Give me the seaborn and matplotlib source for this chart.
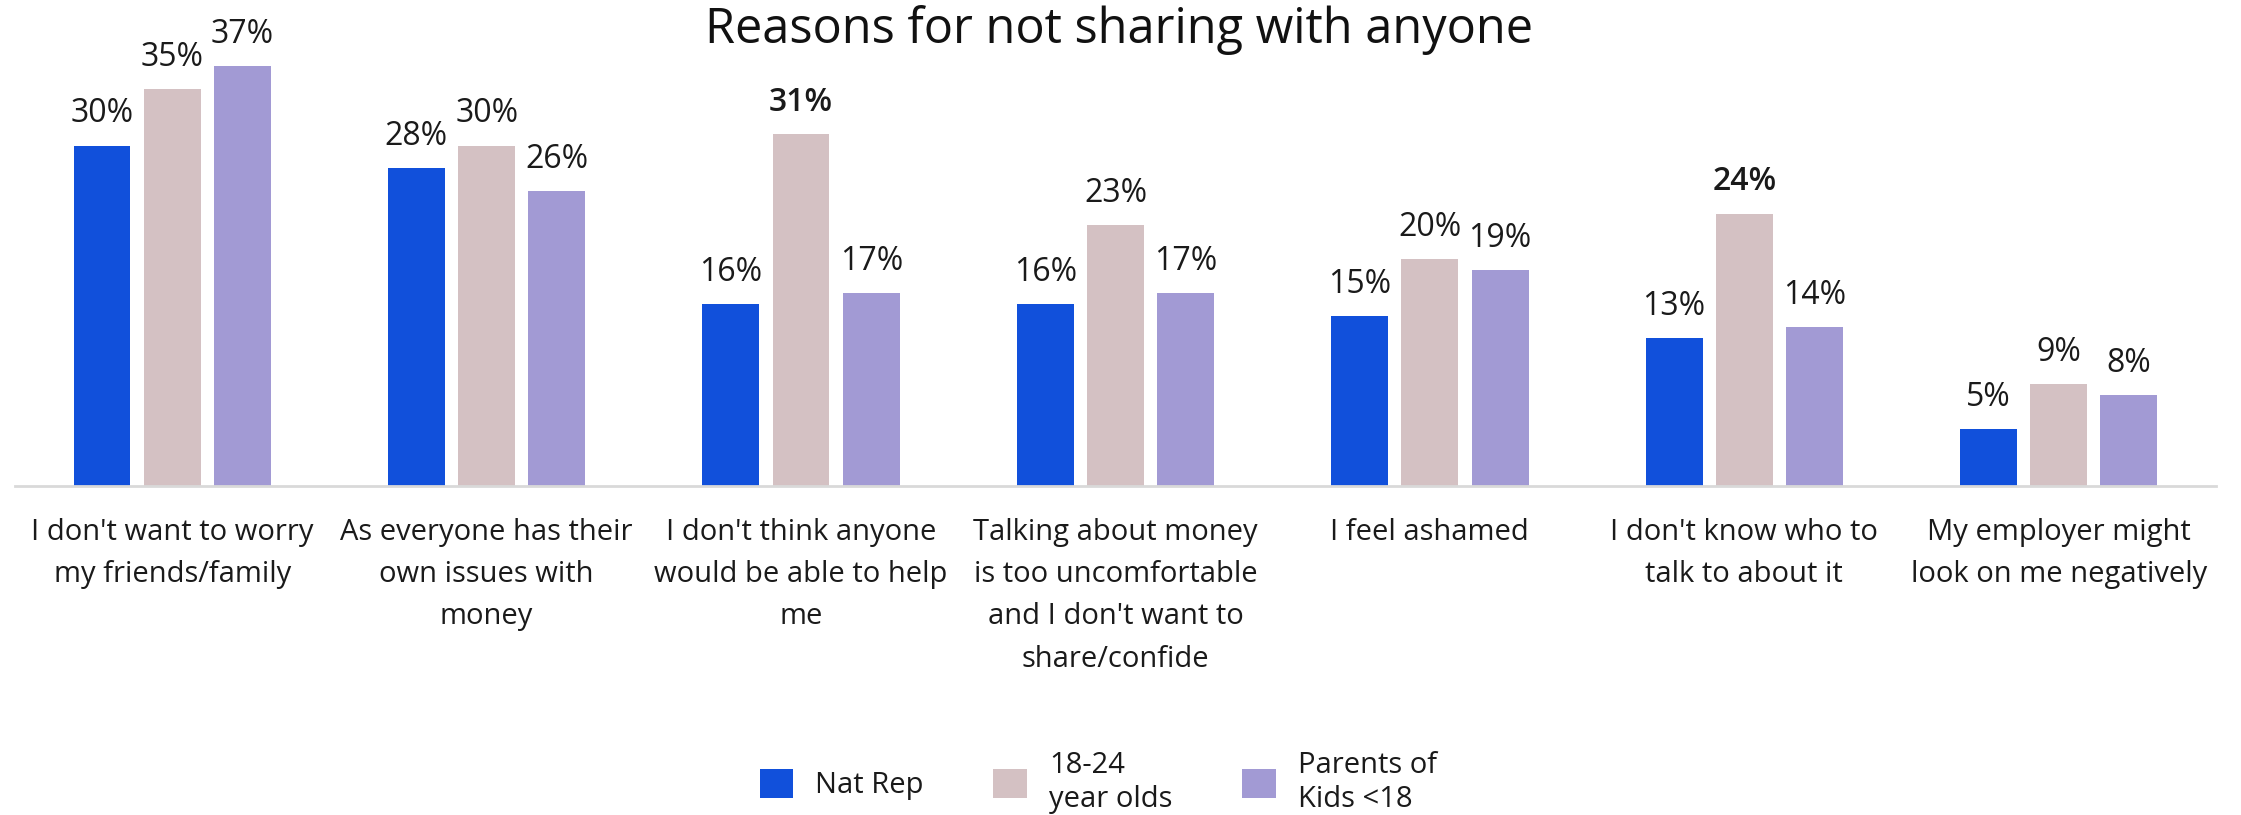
import matplotlib
matplotlib.use("Agg")
import matplotlib.pyplot as plt
import seaborn as sns
import pandas as pd
from matplotlib.patches import Patch

# Survey reasons (x categories)
categories = [
    "I don't want to worry\nmy friends/family",
    "As everyone has their\nown issues with\nmoney",
    "I don't think anyone\nwould be able to help\nme",
    "Talking about money\nis too uncomfortable\nand I don't want to\nshare/confide",
    "I feel ashamed",
    "I don't know who to\ntalk to about it",
    "My employer might\nlook on me negatively",
]
series_names = ["Nat Rep", "18-24\nyear olds", "Parents of\nKids <18"]
nat_rep = [30, 28, 16, 16, 15, 13, 5]
young_adults = [35, 30, 31, 23, 20, 24, 9]
parents = [37, 26, 17, 17, 19, 14, 8]
# values shown in bold (notable differences)
bold_values = {(1, 2), (1, 5)}

colors = ["#1150db", "#d4c1c3", "#a29ad4"]

rows = []
for s, vals in zip(series_names, [nat_rep, young_adults, parents]):
    for c, v in zip(categories, vals):
        rows.append({"reason": c, "group": s, "pct": v})
df = pd.DataFrame(rows)

sns.set_theme(style="white")
plt.rcParams["font.family"] = ["Open Sans", "DejaVu Sans"]

fig = plt.figure(figsize=(22.41, 8.15), dpi=100)
ax = fig.add_axes([0.0067, 0.4037, 0.9821, 0.529])

sns.barplot(data=df, x="reason", y="pct", hue="group", order=categories,
            hue_order=series_names, palette=colors, saturation=1,
            width=0.67, gap=0.19, linewidth=0, legend=False, ax=ax)

ax.set_xlim(-0.5, len(categories) - 0.5)
ax.set_ylim(0, 38)
ax.set_xlabel("")
ax.set_ylabel("")
ax.set_yticks([])
for side in ["top", "left", "right"]:
    ax.spines[side].set_visible(False)
ax.spines["bottom"].set_color("#d9d9d9")
ax.spines["bottom"].set_linewidth(2)
ax.tick_params(axis="x", length=0, pad=23, labelsize=21, colors="#1a1a1a")
for lbl in ax.get_xticklabels():
    lbl.set_linespacing(1.6)
    lbl.set_verticalalignment("top")

for si, container in enumerate(ax.containers):
    for ci, bar in enumerate(container):
        v = bar.get_height()
        weight = "semibold" if (si, ci) in bold_values else "normal"
        ax.annotate(f"{v:.0f}%", (bar.get_x() + bar.get_width() / 2, v),
                    xytext=(0, 11), textcoords="offset points",
                    ha="center", va="bottom", fontsize=23,
                    fontweight=weight, color="#1a1a1a")

fig.text(0.4995, 0.963, "Reasons for not sharing with anyone",
         ha="center", va="center", fontsize=35, color="#111111")

handles = [Patch(facecolor=c, edgecolor="none") for c in colors]
fig.legend(handles, series_names, loc="center", bbox_to_anchor=(0.49, 0.04),
           ncol=3, frameon=False, fontsize=21, handlelength=1.15,
           handleheight=1.15, handletextpad=0.75, columnspacing=2.4,
           labelcolor="#1a1a1a")

fig.savefig("out.png", dpi=100, facecolor="white")
